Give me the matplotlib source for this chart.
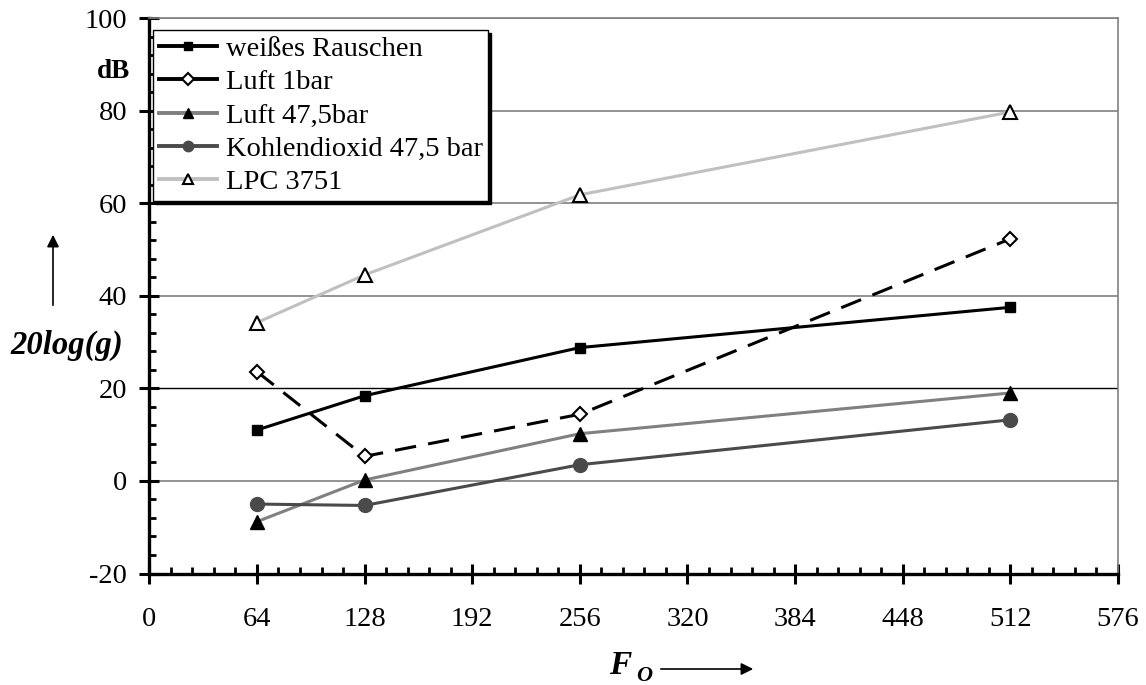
import numpy as np
import matplotlib
matplotlib.use("Agg")
import matplotlib.pyplot as plt
from matplotlib.ticker import MultipleLocator
from matplotlib.lines import Line2D

plt.rcParams['font.family'] = ['Liberation Serif', 'DejaVu Serif']
plt.rcParams['axes.unicode_minus'] = False

# data
fo = [64, 128, 256, 512]
weisses_rauschen = [11.0, 18.4, 28.8, 37.5]
luft_1bar = [23.6, 5.3, 14.4, 52.3]
luft_47bar = [-8.8, 0.2, 10.2, 19.0]
kohlendioxid = [-5.0, -5.3, 3.5, 13.2]
lpc_3751 = [34.2, 44.5, 61.8, 79.7]
labels = ["weißes Rauschen", "Luft 1bar", "Luft 47,5bar",
          "Kohlendioxid 47,5 bar", "LPC 3751"]

W, H = 1146, 685
fig = plt.figure(figsize=(W / 100, H / 100), dpi=100)
ax_l, ax_r, ax_t, ax_b = 149.3, 1118, 18, 573.5
ax = fig.add_axes([ax_l / W, 1 - ax_b / H, (ax_r - ax_l) / W, (ax_b - ax_t) / H])

lw = 2.2
styles = [
    dict(color="black", marker="s", ms=7.5, mfc="black", mec="black"),
    dict(color="black", marker="D", ms=7.5, mfc="white", mec="black", mew=1.5),
    dict(color="#808080", marker="^", ms=10, mfc="black", mec="black"),
    dict(color="#4a4a4a", marker="o", ms=10, mfc="#4a4a4a", mec="#4a4a4a"),
    dict(color="#c0c0c0", marker="^", ms=10, mfc="white", mec="black", mew=1.5),
]
series = [weisses_rauschen, luft_1bar, luft_47bar, kohlendioxid, lpc_3751]
for i, (vals, st) in enumerate(zip(series, styles)):
    extra = {"dashes": (7, 4)} if i == 1 else {}
    ax.plot(fo, vals, lw=lw, zorder=5, **st, **extra)

ax.set_xlim(0, 576)
ax.set_ylim(-20, 100)
ax.xaxis.set_major_locator(MultipleLocator(64))
ax.xaxis.set_minor_locator(MultipleLocator(12.8))
ax.yaxis.set_major_locator(MultipleLocator(20))
ax.yaxis.set_minor_locator(MultipleLocator(4))

ax.tick_params(which="major", direction="inout", length=14, width=2.2,
               labelsize=20.5, color="black")
ax.tick_params(axis="x", which="major", pad=17)
ax.tick_params(axis="y", which="major", pad=9)
ax.tick_params(which="minor", direction="in", length=5, width=2)

for s in ["left", "bottom"]:
    ax.spines[s].set_linewidth(2.4)
    ax.spines[s].set_color("black")
for s in ["top", "right"]:
    ax.spines[s].set_linewidth(1.2)
    ax.spines[s].set_color("#808080")

ax.yaxis.grid(True, which="major", color="#808080", lw=1.2)
for val, gl in zip(ax.get_yticks(), ax.yaxis.get_gridlines()):
    if abs(val - 20) < 1e-6:
        gl.set_color("black")
        gl.set_linewidth(1.0)
ax.set_axisbelow(True)

# legend handles: solid lines, smaller markers (as in the reference)
handles = []
for st in styles:
    h = dict(st)
    h["ms"] = st["ms"] * 0.75
    handles.append(Line2D([], [], lw=2.8, **h))
leg = ax.legend(handles, labels, loc="upper left", bbox_to_anchor=(0.004, 0.978),
                borderaxespad=0, fontsize=20.5, handlelength=2.05,
                handletextpad=0.3, labelspacing=0.26, borderpad=0.2,
                fancybox=False, framealpha=1,
                edgecolor="black", shadow={"color": "black", "alpha": 1},
                )
leg.get_frame().set_linewidth(1.0)

# axis annotations
fig.text(113 / W, 1 - 71 / H, "dB", fontsize=19.5, fontweight="bold",
         ha="center", va="center")
fig.text(67 / W, 1 - 345 / H, "20log(g)", fontsize=23.5, fontweight="bold",
         style="italic", ha="center", va="center")
fig.text(620 / W, 1 - 666 / H, "F", fontsize=24, fontweight="bold",
         style="italic", ha="center", va="center")
fig.text(644 / W, 1 - 676 / H, "O", fontsize=16, fontweight="bold",
         style="italic", ha="center", va="center")

arrow = dict(arrowstyle="-|>", color="black", lw=1.2, mutation_scale=18)
fig.add_artist(matplotlib.patches.FancyArrowPatch(
    (53 / W, 1 - 308 / H), (53 / W, 1 - 232 / H),
    transform=fig.transFigure, **arrow))
fig.add_artist(matplotlib.patches.FancyArrowPatch(
    (658 / W, 1 - 669 / H), (756 / W, 1 - 669 / H),
    transform=fig.transFigure, **arrow))

fig.savefig("out.png", dpi=100)
